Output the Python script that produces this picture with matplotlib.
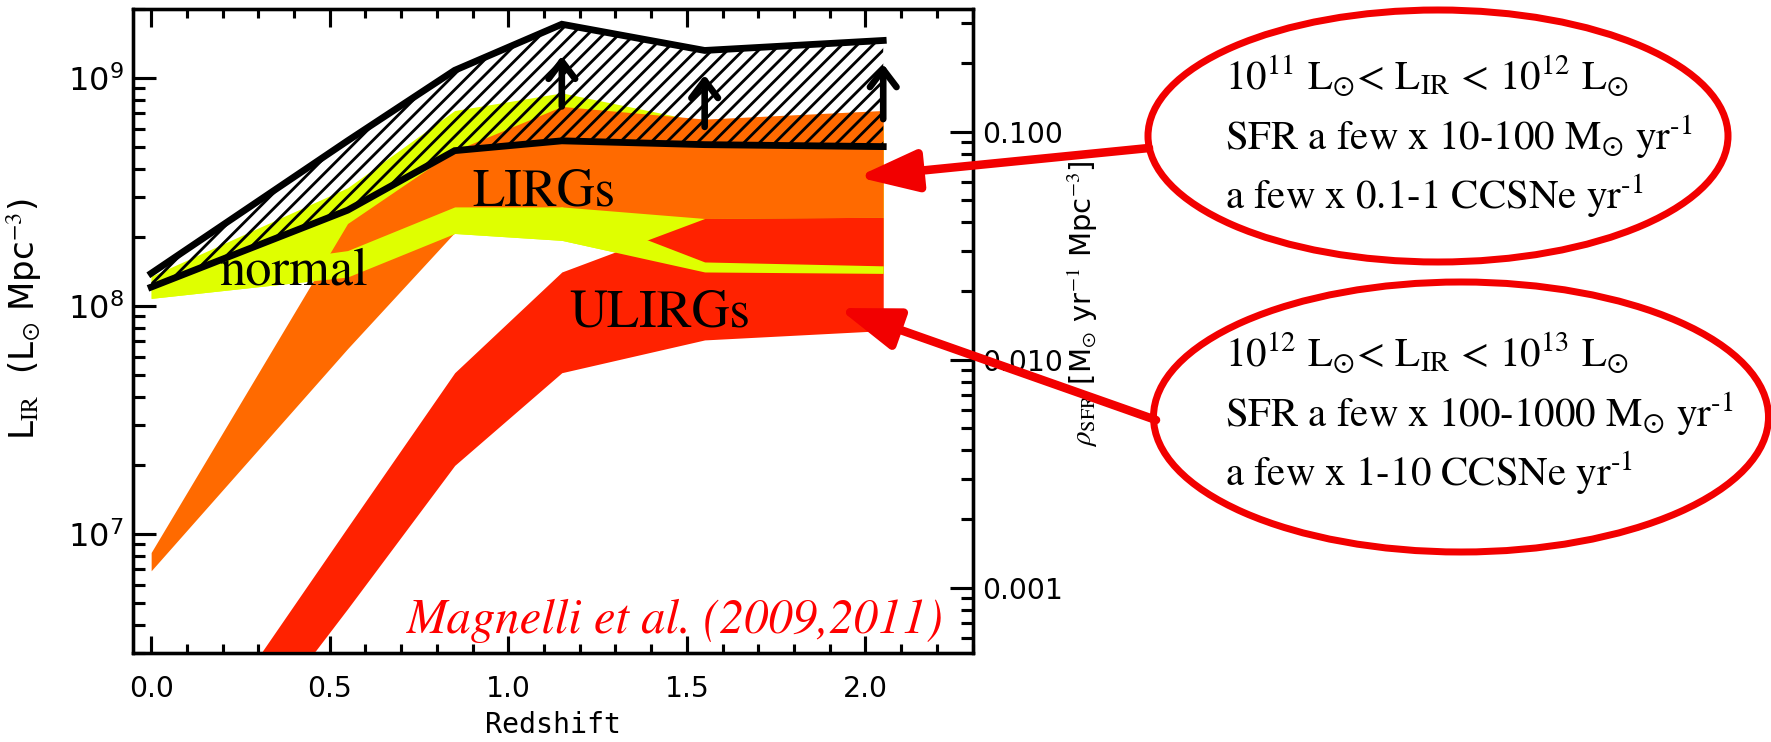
import numpy as np
import matplotlib
matplotlib.use("Agg")
import matplotlib.pyplot as plt
from matplotlib.patches import Ellipse
from matplotlib.ticker import LogLocator, FuncFormatter, MultipleLocator

# ---------------- data ----------------
z = [0.0, 0.55, 0.85, 1.15, 1.55, 2.05]
# normal galaxies (yellow): visible band and upper envelope of its uncertainty
normal_lo = [1.08e8, 1.34e8, 2.08e8, 1.94e8, 1.41e8, 1.39e8]
normal_hi = [1.33e8, 1.75e8, 2.72e8, 2.72e8, 1.56e8, 1.50e8]
normal_env_hi = [1.35e8, 3.30e8, 7.20e8, 8.60e8, 6.40e8, 6.20e8]
# LIRGs (orange)
lirg_lo = [6.9e6, 6.5e7, 2.10e8, 2.72e8, 2.42e8, 2.45e8]
lirg_hi = [8.3e6, 2.30e8, 4.80e8, 7.50e8, 6.60e8, 7.20e8]
# ULIRGs (red)
ulirg_lo = [3.5e5, 4.7e6, 2.0e7, 5.1e7, 7.1e7, 7.8e7]
ulirg_hi = [6.0e5, 1.07e7, 5.1e7, 1.41e8, 2.42e8, 2.45e8]
# total (hatched)
total_lo = [1.21e8, 2.63e8, 4.80e8, 5.30e8, 5.10e8, 5.00e8]
total_hi = [1.39e8, 5.30e8, 1.08e9, 1.72e9, 1.32e9, 1.46e9]
# lower-limit arrows
z_lim = [1.15, 1.55, 2.05]
lim_base = [7.5e8, 6.1e8, 6.6e8]
lim_tip = [1.25e9, 1.03e9, 1.15e9]

SFR_FACTOR = 1.72e-10  # rho_SFR = 1.72e-10 * L_IR

xlim = (-0.05, 2.30)
ylim = (3.0e6, 2.0e9)

band_labels = ["normal", "LIRGs", "ULIRGs"]
ellipse_lines_1 = [r"10$^{11}$ L$_{\odot}$< L$_{\rm IR}$ < 10$^{12}$ L$_{\odot}$",
                   r"SFR a few x 10-100 M$_{\odot}$ yr$^{\text{-1}}$",
                   r"a few x 0.1-1 CCSNe yr$^{\text{-1}}$"]
ellipse_lines_2 = [r"10$^{12}$ L$_{\odot}$< L$_{\rm IR}$ < 10$^{13}$ L$_{\odot}$",
                   r"SFR a few x 100-1000 M$_{\odot}$ yr$^{\text{-1}}$",
                   r"a few x 1-10 CCSNe yr$^{\text{-1}}$"]

# ---------------- style ----------------
YELLOW = "#DFFF00"
ORANGE = "#FF6A00"
RED = "#FF2200"
ARED = "#F20000"

plt.rcParams["mathtext.fontset"] = "stix"
plt.rcParams["hatch.linewidth"] = 1.45
plt.rcParams["hatch.color"] = "black"

DPI = 140
fig = plt.figure(figsize=(1771 / DPI, 742 / DPI), dpi=DPI)
ax = fig.add_axes([133.3 / 1771, 1 - 653.3 / 742, (972.5 - 133.3) / 1771, (653.3 - 9.3) / 742])

ax.set_yscale("log")
ax.set_xlim(*xlim)
ax.set_ylim(*ylim)

ax.fill_between(z, normal_lo, normal_env_hi, color=YELLOW, lw=0, zorder=1)
ax.fill_between(z, lirg_lo, lirg_hi, color=ORANGE, lw=0, zorder=2)
ax.fill_between(z, ulirg_lo, ulirg_hi, color=RED, lw=0, zorder=3)
ax.fill_between(z, normal_lo, normal_hi, color=YELLOW, lw=0, zorder=4)

ax.fill_between(z, total_lo, total_hi, facecolor="none", edgecolor="black",
                hatch="///", lw=0, zorder=5)
ax.plot(z, total_lo, color="black", lw=3.5, zorder=6, solid_joinstyle="miter")
ax.plot(z, total_hi, color="black", lw=3.5, zorder=6, solid_joinstyle="miter")

for zl, b, t in zip(z_lim, lim_base, lim_tip):
    ax.annotate("", xy=(zl, t), xytext=(zl, b),
                arrowprops=dict(arrowstyle="->,head_length=0.5,head_width=0.38",
                                lw=3.4, color="black", mutation_scale=18,
                                shrinkA=0, shrinkB=0), zorder=7)

ax.text(0.19, 1.24e8, band_labels[0], fontsize=27, family="STIXGeneral", zorder=8)
ax.text(0.90, 2.75e8, band_labels[1], fontsize=27, family="STIXGeneral", zorder=8)
ax.text(1.17, 8.1e7, band_labels[2], fontsize=27, family="STIXGeneral", zorder=8)
ax.text(0.966, 0.032, "Magnelli et al. (2009,2011)", transform=ax.transAxes,
        ha="right", va="baseline", fontsize=25, style="italic",
        family="STIXGeneral", color="#FF0000", zorder=8)

# ticks
ax.xaxis.set_major_locator(MultipleLocator(0.5))
ax.xaxis.set_minor_locator(MultipleLocator(0.1))
ax.xaxis.set_major_formatter(FuncFormatter(lambda v, p: f"{v:.1f}"))
ax.yaxis.set_major_locator(LogLocator(base=10, numticks=10))
ax.yaxis.set_minor_locator(LogLocator(base=10, subs=np.arange(2, 10), numticks=20))
ax.tick_params(axis="x", which="both", direction="in", top=True, bottom=True,
               labelsize=14.5, pad=11, width=1.6)
ax.tick_params(axis="x", which="major", length=9)
ax.tick_params(axis="x", which="minor", length=4.5)
ax.tick_params(axis="y", which="both", direction="in", left=True, right=False,
               labelsize=16.5, pad=5, width=1.6)
ax.tick_params(axis="y", which="major", length=12)
ax.tick_params(axis="y", which="minor", length=6)
for s in ax.spines.values():
    s.set_linewidth(1.7)

ax.set_xlabel("Redshift", fontsize=14.5, family="DejaVu Sans Mono")
ax.xaxis.label.set_va("baseline")
ax.xaxis.set_label_coords(0.5, -0.1245)
ax.set_ylabel(r"L$_{\rm IR}$  (L$_{\odot}$ Mpc$^{-3}$)", fontsize=17.5)
ax.yaxis.set_label_coords(-0.107, 0.519)

ax2 = ax.twinx()
ax2.set_yscale("log")
ax2.set_ylim(ylim[0] * SFR_FACTOR, ylim[1] * SFR_FACTOR)
ax2.yaxis.set_major_locator(LogLocator(base=10, numticks=10))
ax2.yaxis.set_minor_locator(LogLocator(base=10, subs=np.arange(2, 10), numticks=20))
ax2.yaxis.set_major_formatter(FuncFormatter(lambda v, p: f"{v:.3f}"))
ax2.tick_params(axis="y", which="both", direction="in", labelsize=14.5, pad=5, width=1.6)
ax2.tick_params(axis="y", which="major", length=12)
ax2.tick_params(axis="y", which="minor", length=6)
ax2.set_ylabel(r"$\rho_{\rm SFR}$ [M$_{\odot}$ yr$^{-1}$ Mpc$^{-3}$]", fontsize=15,
               rotation=90)
ax2.yaxis.set_label_coords(1.111, 0.543)
for s in ax2.spines.values():
    s.set_linewidth(1.7)

# ---------------- annotation overlay (pixel coordinates) ----------------
ov = fig.add_axes([0, 0, 1, 1], zorder=10)
ov.set_xlim(0, 1771)
ov.set_ylim(742, 0)
ov.axis("off")

ov.add_patch(Ellipse((1438, 136), 580, 252, facecolor="none", edgecolor=ARED, lw=3.6))
ov.add_patch(Ellipse((1461, 417), 615, 270, facecolor="none", edgecolor=ARED, lw=3.6))

for i, line in enumerate(ellipse_lines_1):
    ov.text(1225, 90 + 59 * i, line, fontsize=21, family="STIXGeneral", va="baseline")
for i, line in enumerate(ellipse_lines_2):
    ov.text(1225, 367 + 59 * i, line, fontsize=21, family="STIXGeneral", va="baseline")

arrow_kw = dict(arrowstyle="-|>,head_length=26,head_width=9", mutation_scale=1,
                lw=4.4, color=ARED, shrinkA=0, shrinkB=0)
ov.annotate("", xy=(857, 177), xytext=(1149, 148), arrowprops=arrow_kw)
ov.annotate("", xy=(838, 308), xytext=(1156, 420), arrowprops=arrow_kw)

fig.savefig("out.png", dpi=DPI)
